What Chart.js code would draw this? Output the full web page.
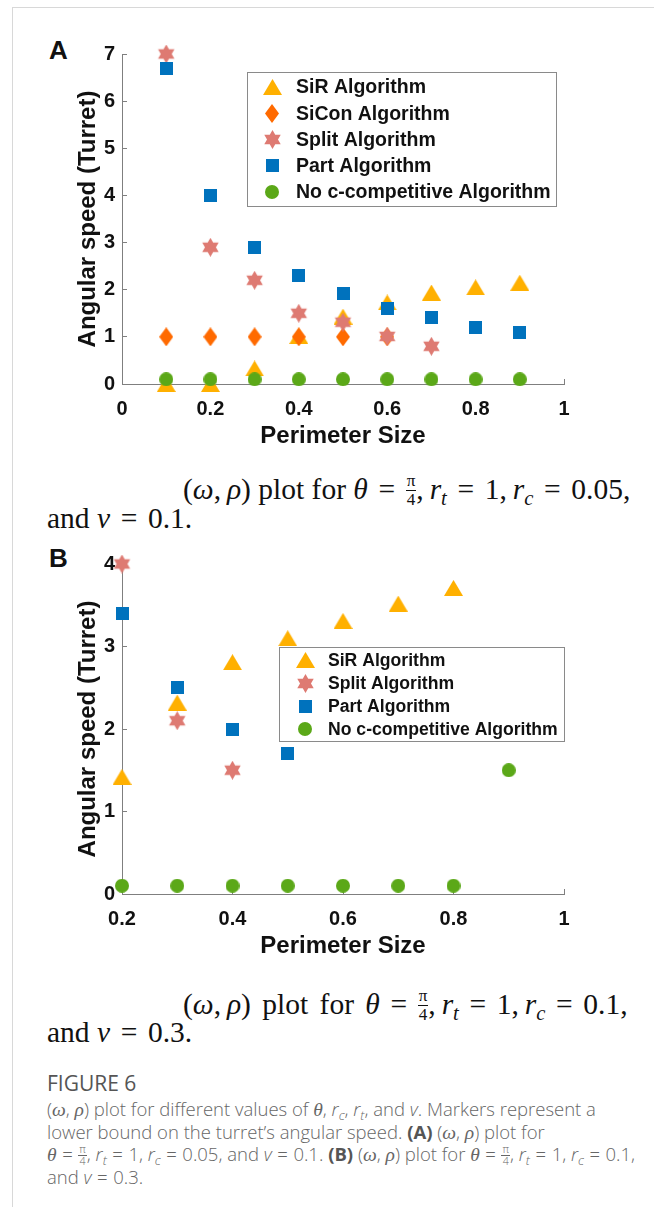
<!DOCTYPE html>
<html>
<head>
<meta charset="utf-8">
<script src="https://cdn.jsdelivr.net/npm/chart.js@4.4.1/dist/chart.umd.min.js"></script>
<style>
  html, body { margin: 0; padding: 0; background: #fff; }
  body { width: 654px; height: 1207px; position: relative; overflow: hidden; }
  .rule-top { position: absolute; left: 12px; top: 7px; right: 0; height: 1px; background: #d8d8d8; }
  .rule-left { position: absolute; left: 12px; top: 7px; bottom: 0; width: 1px; background: #d8d8d8; }
  .panel { position: absolute; left: 0; }
  .letter { position: absolute; font: bold 26px "Liberation Sans", Arial, sans-serif; color: #111; }
  .eq { position: absolute; font-family: "Liberation Serif", "DejaVu Serif", serif; font-size: 29.5px;
        line-height: 30px; white-space: nowrap; color: #111; }
  .eq i { font-style: italic; }
  .rel { display: inline-block; margin: 0 0.36em; }
  .th { display: inline-block; width: 0.2em; }
  .sb { font-size: 0.7em; position: relative; top: 0.28em; line-height: 0; }
  .fr { display: inline-block; vertical-align: middle; font-size: 0.58em; line-height: 1; text-align: center; position: relative; top: -0.12em; }
  .fr span { display: block; }
  .fr span:first-child { border-bottom: 1px solid currentColor; padding: 0 1px 1px; }
  .figlabel { position: absolute; left: 47px; top: 1069px; font: 500 21px "Open Sans", "Noto Sans", sans-serif; color: #555; }
  .cap { position: absolute; left: 47px; top: 1098px; font: 300 18.5px "Open Sans", "Noto Sans", sans-serif;
         line-height: 22.7px; color: #666; white-space: nowrap; }
  .cap .ln { height: 22.7px; line-height: 22.7px; overflow: visible; }
  .cap b { font-weight: 700; color: #555; }
  .cap .m { font-family: "Liberation Serif", "DejaVu Serif", serif; font-style: italic; font-size: 19.5px; }
  .cap .rel { margin: 0 0.3em; }
  .cap .fr { line-height: 0.95; top: -0.15em; }
</style>
</head>
<body>
<div class="rule-top"></div>
<div class="rule-left"></div>

<div class="letter" style="left:49px;top:35px">A</div>
<canvas id="chartA" class="panel" style="top:30px" width="654" height="430"></canvas>

<div class="eq" style="left:183px;top:474px">(<i>ω</i>,<span class="th"></span><i>ρ</i>) plot for <i>θ</i><span class="rel">=</span><span class="fr"><span>π</span><span>4</span></span>,<span class="th"></span><i>r</i><span class="sb"><i>t</i></span><span class="rel">=</span>1,<span class="th"></span><i>r</i><span class="sb"><i>c</i></span><span class="rel">=</span>0.05,</div>
<div class="eq" style="left:47px;top:503px">and <i>v</i><span class="rel">=</span>0.1.</div>

<div class="letter" style="left:49px;top:543px">B</div>
<canvas id="chartB" class="panel" style="top:540px" width="654" height="430"></canvas>

<div class="eq" style="left:183px;top:989px;word-spacing:4px">(<i>ω</i>,<span class="th"></span><i>ρ</i>) plot for <i>θ</i><span class="rel">=</span><span class="fr"><span>π</span><span>4</span></span>,<span class="th"></span><i>r</i><span class="sb"><i>t</i></span><span class="rel">=</span>1,<span class="th"></span><i>r</i><span class="sb"><i>c</i></span><span class="rel">=</span>0.1,</div>
<div class="eq" style="left:47px;top:1017px">and <i>v</i><span class="rel">=</span>0.3.</div>

<div class="figlabel">FIGURE 6</div>
<div class="cap">
<div class="ln">(<i class="m">ω</i>, <i class="m">ρ</i>) plot for different values of <i class="m">θ</i>, <i>r</i><span class="sb"><i>c</i></span>, <i>r</i><span class="sb"><i>t</i></span>, and <i>v</i>. Markers represent a</div>
<div class="ln">lower bound on the turret’s angular speed. <b>(A)</b> (<i class="m">ω</i>, <i class="m">ρ</i>) plot for</div>
<div class="ln"><i class="m">θ</i><span class="rel">=</span><span class="fr"><span>π</span><span>4</span></span>, <i>r</i><span class="sb"><i>t</i></span><span class="rel">=</span>1, <i>r</i><span class="sb"><i>c</i></span><span class="rel">=</span>0.05, and <i>v</i><span class="rel">=</span>0.1. <b>(B)</b> (<i class="m">ω</i>, <i class="m">ρ</i>) plot for <i class="m">θ</i><span class="rel">=</span><span class="fr"><span>π</span><span>4</span></span>, <i>r</i><span class="sb"><i>t</i></span><span class="rel">=</span>1, <i>r</i><span class="sb"><i>c</i></span><span class="rel">=</span>0.1,</div>
<div class="ln">and <i>v</i><span class="rel">=</span>0.3.</div>
</div>

<script>
// panel A: theta = pi/4, rt = 1, rc = 0.05, v = 0.1
const xA = [0.1, 0.2, 0.3, 0.4, 0.5, 0.6, 0.7, 0.8, 0.9];
const sirA = [0, 0, 0.33, 1.02, 1.43, 1.73, 1.94, 2.05, 2.15];
const siconX = [0.1, 0.2, 0.3, 0.4, 0.5, 0.6];
const siconA = [1, 1, 1, 1, 1, 1];
const splitX = [0.1, 0.2, 0.3, 0.4, 0.5, 0.6, 0.7];
const splitA = [7.0, 2.9, 2.2, 1.5, 1.31, 1.01, 0.8];
const partA = [6.7, 4.0, 2.9, 2.3, 1.92, 1.6, 1.41, 1.2, 1.1];
const noneA = [0.1, 0.1, 0.1, 0.1, 0.1, 0.1, 0.1, 0.1, 0.1];
const xTicksA = [0, 0.2, 0.4, 0.6, 0.8, 1];
const yTicksA = [0, 1, 2, 3, 4, 5, 6, 7];

// panel B: theta = pi/4, rt = 1, rc = 0.1, v = 0.3
const sirBX = [0.2, 0.3, 0.4, 0.5, 0.6, 0.7, 0.8];
const sirB = [1.42, 2.32, 2.81, 3.1, 3.31, 3.52, 3.71];
const splitBX = [0.2, 0.3, 0.4];
const splitB = [4.0, 2.1, 1.5];
const partBX = [0.2, 0.3, 0.4, 0.5];
const partB = [3.4, 2.5, 2.0, 1.7];
const noneBX = [0.2, 0.3, 0.4, 0.5, 0.6, 0.7, 0.8, 0.9];
const noneB = [0.1, 0.1, 0.1, 0.1, 0.1, 0.1, 0.1, 1.5];
const xTicksB = [0.2, 0.4, 0.6, 0.8, 1];
const yTicksB = [0, 1, 2, 3, 4];

const AXIS = '#7f7f7f';
const INK = '#111111';
const SANS = '"Liberation Sans", Arial, sans-serif';

// marker images, MATLAB-ish shapes
function marker(shape, color) {
    const c = document.createElement('canvas');
    const sizes = { tri: [19, 16], dia: [14, 19], star: [19, 19], sq: [13, 13], dot: [14, 14] };
    const [w, h] = sizes[shape];
    c.width = w; c.height = h;
    const g = c.getContext('2d');
    g.fillStyle = color;
    g.beginPath();
    if (shape === 'tri') {
        g.moveTo(0, h); g.lineTo(w / 2, 0); g.lineTo(w, h);
    } else if (shape === 'dia') {
        g.moveTo(w / 2, 0); g.lineTo(w, h / 2); g.lineTo(w / 2, h); g.lineTo(0, h / 2);
    } else if (shape === 'star') {
        const R = w / 2, r = R / Math.sqrt(3);
        for (let k = 0; k < 12; k++) {
            const a = -Math.PI / 2 + k * Math.PI / 6;
            const rr = k % 2 ? r : R;
            g.lineTo(w / 2 + rr * Math.cos(a), h / 2 + rr * Math.sin(a));
        }
    } else if (shape === 'sq') {
        g.rect(0, 0, w, h);
    } else {
        g.arc(w / 2, h / 2, w / 2, 0, Math.PI * 2);
    }
    g.closePath();
    g.fill();
    return c;
}

const M = {
    sir: marker('tri', '#FFB000'),
    sicon: marker('dia', '#FF6A00'),
    split: marker('star', '#DE7A72'),
    part: marker('sq', '#0072BD'),
    none: marker('dot', '#5BA818')
};

function pts(xs, ys) {
    return xs.map((x, i) => ({ x: x, y: ys[i] }));
}

function series(label, img, xs, ys, order) {
    return {
        label: label,
        data: pts(xs, ys),
        pointStyle: img,
        pointRadius: 9,
        pointHoverRadius: 9,
        showLine: false,
        clip: false,
        order: order
    };
}

// legend box drawn inside the plot, like the MATLAB one
const boxLegend = {
    id: 'boxLegend',
    afterDraw(chart, args, o) {
        const ctx = chart.ctx;
        ctx.save();
        ctx.fillStyle = '#fff';
        ctx.fillRect(o.x, o.y, o.w, o.h);
        ctx.strokeStyle = '#8a8a8a';
        ctx.lineWidth = 1;
        ctx.strokeRect(o.x + 0.5, o.y + 0.5, o.w, o.h);
        ctx.font = 'bold ' + o.size + 'px ' + SANS;
        ctx.fillStyle = INK;
        ctx.textBaseline = 'middle';
        chart.data.datasets.forEach((ds, i) => {
            const cy = o.y + o.first + i * o.step;
            const img = ds.pointStyle;
            ctx.drawImage(img, Math.round(o.markX - img.width / 2), Math.round(cy - img.height / 2));
            ctx.fillText(ds.label, o.textX, cy + 1);
        });
        ctx.restore();
    }
};

function font(size) {
    return { family: SANS, size: size, weight: 'bold' };
}

function makeChart(id, datasets, xTicks, yTicks, legend) {
    return new Chart(document.getElementById(id), {
        type: 'scatter',
        data: { datasets: datasets },
        options: {
            responsive: false,
            animation: false,
            events: [],
            layout: { padding: { top: 22, right: 90, left: 0, bottom: 0 } },
            plugins: {
                legend: { display: false },
                tooltip: { enabled: false },
                boxLegend: legend
            },
            scales: {
                x: {
                    type: 'linear',
                    min: xTicks[0],
                    max: xTicks[xTicks.length - 1],
                    afterBuildTicks: s => { s.ticks = xTicks.map(v => ({ value: v })); },
                    afterFit: s => { s.height = 76; },
                    grid: { drawOnChartArea: false, tickLength: -5, color: AXIS },
                    border: { color: AXIS, width: 1 },
                    ticks: { font: font(20), color: INK, padding: 18, maxRotation: 0, callback: v => String(v) },
                    title: { display: true, text: 'Perimeter Size', font: font(24), color: INK, padding: { top: 0, bottom: 9.6 } }
                },
                y: {
                    type: 'linear',
                    min: yTicks[0],
                    max: yTicks[yTicks.length - 1],
                    afterBuildTicks: s => { s.ticks = yTicks.map(v => ({ value: v })); },
                    afterFit: s => { s.width = 122; },
                    grid: { drawOnChartArea: false, tickLength: -5, color: AXIS },
                    border: { color: AXIS, width: 1 },
                    ticks: { font: font(20), color: INK, padding: 12, callback: v => String(v) },
                    title: { display: true, text: 'Angular speed (Turret)', font: font(24), color: INK, padding: { top: 73.6, bottom: 0 } }
                }
            }
        },
        plugins: [boxLegend]
    });
}

makeChart('chartA', [
    series('SiR Algorithm', M.sir, xA, sirA, 5),
    series('SiCon Algorithm', M.sicon, siconX, siconA, 4),
    series('Split Algorithm', M.split, splitX, splitA, 3),
    series('Part Algorithm', M.part, xA, partA, 2),
    series('No c-competitive Algorithm', M.none, xA, noneA, 1)
], xTicksA, yTicksA, { x: 247, y: 42, w: 309, h: 134, first: 15, step: 26.2, markX: 272, textX: 296, size: 19.5 });

makeChart('chartB', [
    series('SiR Algorithm', M.sir, sirBX, sirB, 4),
    series('Split Algorithm', M.split, splitBX, splitB, 3),
    series('Part Algorithm', M.part, partBX, partB, 2),
    series('No c-competitive Algorithm', M.none, noneBX, noneB, 1)
], xTicksB, yTicksB, { x: 279, y: 107, w: 285, h: 94, first: 13, step: 23, markX: 305, textX: 328, size: 17.6 });
</script>
</body>
</html>
